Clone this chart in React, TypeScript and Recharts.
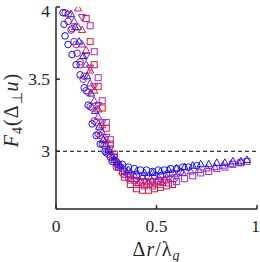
import { ScatterChart, Scatter, XAxis, YAxis, ReferenceLine, Label } from 'recharts'

const xTicks = [0, 0.5, 1]
const yTicks = [3, 3.5, 4]

// blue circles
const blueCircleX = [0.035, 0.04, 0.045, 0.06, 0.08, 0.1, 0.12, 0.14, 0.16, 0.18, 0.2, 0.22, 0.245, 0.27, 0.3, 0.33, 0.36, 0.39, 0.42, 0.45, 0.48, 0.51, 0.54, 0.57, 0.6, 0.63, 0.66, 0.7]
const blueCircleY = [3.96, 3.88, 3.8, 3.74, 3.67, 3.6, 3.53, 3.44, 3.32, 3.19, 3.11, 3.05, 3.0, 2.96, 2.93, 2.91, 2.89, 2.88, 2.87, 2.87, 2.86, 2.87, 2.87, 2.88, 2.88, 2.89, 2.89, 2.9]
// violet circles
const violetCircleX = [0.045, 0.06, 0.075, 0.09, 0.105, 0.12, 0.135, 0.15, 0.17, 0.19, 0.21, 0.23, 0.25, 0.28, 0.31, 0.34, 0.37, 0.4, 0.43, 0.46, 0.49, 0.52, 0.55, 0.58, 0.62]
const violetCircleY = [3.96, 3.9, 3.84, 3.76, 3.68, 3.6, 3.5, 3.42, 3.31, 3.21, 3.12, 3.05, 2.99, 2.93, 2.89, 2.86, 2.84, 2.83, 2.83, 2.82, 2.83, 2.83, 2.84, 2.85, 2.86]
// red circles
const redCircleX = [0.06, 0.08, 0.1, 0.12, 0.14, 0.16, 0.18, 0.2, 0.22, 0.24, 0.26, 0.28, 0.3, 0.33, 0.36, 0.39, 0.42, 0.45, 0.48, 0.51, 0.54]
const redCircleY = [3.95, 3.85, 3.74, 3.62, 3.52, 3.41, 3.3, 3.2, 3.11, 3.04, 2.98, 2.93, 2.89, 2.85, 2.82, 2.8, 2.79, 2.79, 2.79, 2.8, 2.8]
// blue triangles
const blueTriX = [0.075, 0.095, 0.115, 0.135, 0.155, 0.175, 0.195, 0.215, 0.235, 0.26, 0.29, 0.32, 0.36, 0.4, 0.44, 0.48, 0.52, 0.56, 0.6, 0.64, 0.68, 0.72, 0.76, 0.8, 0.84, 0.88, 0.92, 0.95]
const blueTriY = [3.95, 3.86, 3.76, 3.66, 3.52, 3.4, 3.28, 3.17, 3.08, 3.01, 2.94, 2.9, 2.87, 2.86, 2.85, 2.85, 2.86, 2.87, 2.88, 2.89, 2.9, 2.91, 2.91, 2.92, 2.92, 2.93, 2.93, 2.94]
// violet triangles
const violetTriX = [0.09, 0.11, 0.13, 0.15, 0.17, 0.19, 0.21, 0.23, 0.25, 0.28, 0.31, 0.35, 0.39, 0.43, 0.47, 0.51, 0.55, 0.59, 0.63, 0.67, 0.71, 0.75, 0.79, 0.83, 0.87, 0.91]
const violetTriY = [3.9, 3.86, 3.74, 3.6, 3.47, 3.35, 3.24, 3.13, 3.05, 2.97, 2.91, 2.86, 2.83, 2.82, 2.81, 2.82, 2.82, 2.84, 2.85, 2.86, 2.87, 2.88, 2.89, 2.9, 2.91, 2.92]
// red triangles
const redTriX = [0.11, 0.13, 0.15, 0.17, 0.19, 0.21, 0.23, 0.25, 0.27, 0.3, 0.33, 0.37, 0.41, 0.45, 0.49, 0.53]
const redTriY = [3.99, 3.84, 3.7, 3.56, 3.42, 3.29, 3.18, 3.08, 3.0, 2.92, 2.86, 2.81, 2.78, 2.77, 2.77, 2.78]
// violet down-triangles
const violetDownX = [0.13, 0.15, 0.17, 0.19, 0.21, 0.23, 0.25, 0.27, 0.29, 0.32, 0.36, 0.4, 0.44, 0.48, 0.52, 0.56, 0.6]
const violetDownY = [3.93, 3.66, 3.58, 3.45, 3.32, 3.2, 3.1, 3.02, 2.96, 2.89, 2.83, 2.8, 2.79, 2.79, 2.8, 2.81, 2.82]
// red squares
const redSquareX = [0.15, 0.17, 0.19, 0.21, 0.23, 0.25, 0.27, 0.29, 0.31, 0.34, 0.37, 0.4, 0.43, 0.46, 0.49, 0.52, 0.55, 0.58]
const redSquareY = [3.92, 3.76, 3.6, 3.45, 3.3, 3.16, 3.05, 2.96, 2.89, 2.82, 2.77, 2.74, 2.73, 2.73, 2.74, 2.75, 2.76, 2.77]
// violet squares
const violetSquareX = [0.17, 0.19, 0.21, 0.23, 0.25, 0.27, 0.29, 0.31, 0.34, 0.37, 0.4, 0.44, 0.48, 0.52, 0.56, 0.6, 0.64, 0.68, 0.72, 0.76, 0.8, 0.84, 0.88, 0.92, 0.95]
const violetSquareY = [3.87, 3.69, 3.51, 3.35, 3.2, 3.08, 2.98, 2.91, 2.84, 2.8, 2.77, 2.76, 2.76, 2.77, 2.78, 2.79, 2.81, 2.83, 2.85, 2.86, 2.88, 2.89, 2.91, 2.92, 2.93]

const zip = (xs: number[], ys: number[]) => xs.map((x, i) => ({ x, y: ys[i] }))

const series = [
  { data: zip(redSquareX, redSquareY), kind: 'square', color: '#f01020' },
  { data: zip(violetSquareX, violetSquareY), kind: 'square', color: '#9a30c0' },
  { data: zip(violetDownX, violetDownY), kind: 'down', color: '#7a20c8' },
  { data: zip(redTriX, redTriY), kind: 'up', color: '#e81838' },
  { data: zip(violetTriX, violetTriY), kind: 'up', color: '#8a28c0' },
  { data: zip(redCircleX, redCircleY), kind: 'circle', color: '#d81e50' },
  { data: zip(violetCircleX, violetCircleY), kind: 'circle', color: '#7020c8' },
  { data: zip(blueTriX, blueTriY), kind: 'up', color: '#1414f0' },
  { data: zip(blueCircleX, blueCircleY), kind: 'circle', color: '#1010f8' },
]

const axisColor = '#262626'
const font = 'Liberation Serif'
const tickStyle = { fill: axisColor, fontSize: 17.5, fontFamily: font, style: { fontFamily: font } }

function Marker({ cx, cy, kind, color }: any) {
  if (cx == null || cy == null) return null
  const common = { fill: 'none', stroke: color, strokeWidth: 1 }
  if (kind === 'circle') return <circle cx={cx} cy={cy} r={3.3} {...common} />
  if (kind === 'square') return <rect x={cx - 3} y={cy - 3} width={6} height={6} {...common} />
  if (kind === 'down')
    return <path d={`M${cx},${cy + 4}L${cx + 3.6},${cy - 2.5}L${cx - 3.6},${cy - 2.5}Z`} {...common} />
  return <path d={`M${cx},${cy - 4}L${cx + 3.6},${cy + 2.5}L${cx - 3.6},${cy + 2.5}Z`} {...common} />
}

export default function App() {
  return (
    <div style={{ position: 'fixed', left: 0, top: 0, background: '#fff', fontFamily: font }}>
      <ScatterChart
        width={260}
        height={262}
        margin={{ top: 7, right: 3, bottom: 0, left: 0 }}
        style={{ fontFamily: font }}
      >
        <XAxis
          type="number"
          dataKey="x"
          domain={[0, 1]}
          ticks={xTicks}
          height={53}
          tickSize={-4}
          tickMargin={15}
          tick={tickStyle}
          stroke={axisColor}
          strokeWidth={1.5}
        >
          <Label
            content={() => (
              <text
                x={156.5}
                y={256}
                textAnchor="middle"
                fill={axisColor}
                style={{ fontFamily: font, fontSize: 20, letterSpacing: 1 }}
              >
                Δ<tspan fontStyle="italic">r</tspan>/λ
                <tspan fontStyle="italic" fontSize={14} dy={4}>q</tspan>
              </text>
            )}
          />
        </XAxis>
        <XAxis
          xAxisId="top"
          orientation="top"
          type="number"
          domain={[0, 1]}
          ticks={xTicks}
          height={0}
          tickSize={-4}
          tickFormatter={() => ''}
          stroke={axisColor}
          strokeWidth={1.5}
        />
        <YAxis
          type="number"
          dataKey="y"
          domain={[2.6, 4]}
          allowDataOverflow
          ticks={yTicks}
          width={56}
          tickSize={-4}
          tickMargin={10}
          tick={tickStyle}
          stroke={axisColor}
          strokeWidth={1.5}
        >
          <Label
            content={() => (
              <text
                x={18}
                y={110}
                transform="rotate(-90 18 110)"
                textAnchor="middle"
                fill={axisColor}
                style={{ fontFamily: font, fontSize: 20, letterSpacing: 1 }}
              >
                <tspan fontStyle="italic">F</tspan>
                <tspan fontSize={14} dy={4}>4</tspan>
                <tspan dy={-4}>(Δ</tspan>
                <tspan fontSize={14} dy={4}>⊥</tspan>
                <tspan fontStyle="italic" dy={-4}>u</tspan>)
              </text>
            )}
          />
        </YAxis>
        <YAxis
          yAxisId="right"
          orientation="right"
          type="number"
          domain={[2.6, 4]}
          ticks={yTicks}
          width={0}
          tickSize={-4}
          tickFormatter={() => ''}
          stroke={axisColor}
          strokeWidth={1.5}
        />
        <ReferenceLine y={3} stroke="#000" strokeDasharray="4 3" strokeWidth={1} />
        {series.map((s, i) => (
          <Scatter
            key={i}
            data={s.data}
            isAnimationActive={false}
            shape={(p: any) => <Marker cx={p.cx} cy={p.cy} kind={s.kind} color={s.color} />}
          />
        ))}
      </ScatterChart>
    </div>
  )
}
